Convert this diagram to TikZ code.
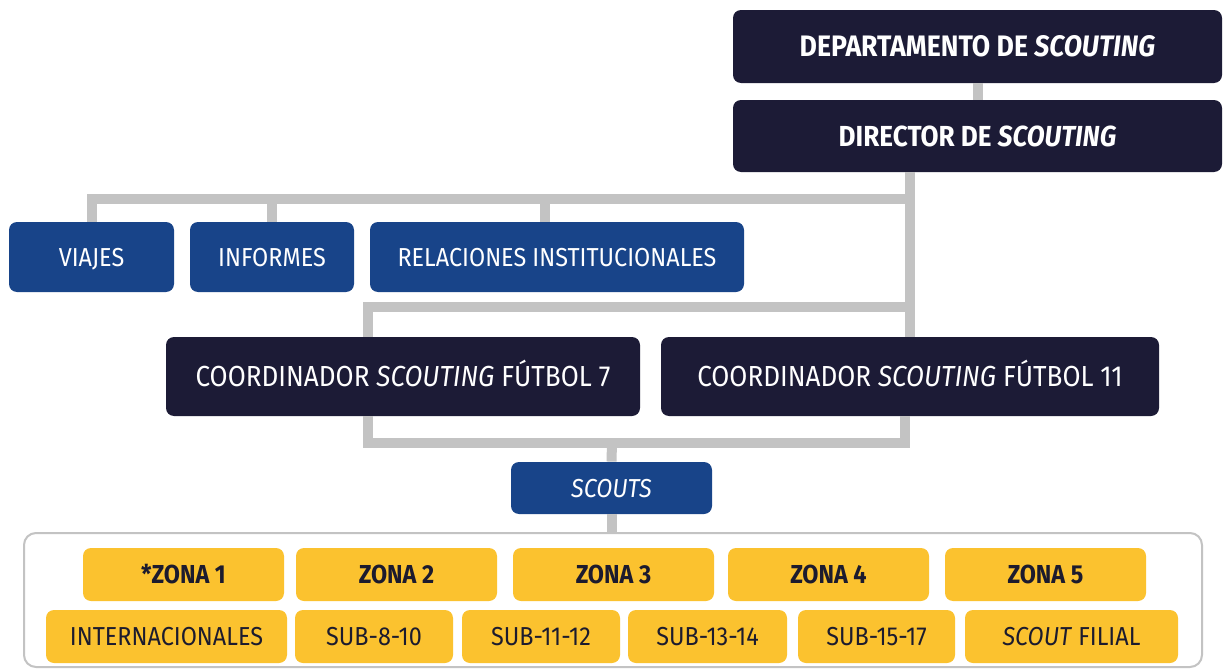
\documentclass[tikz,border=0pt]{standalone}
\usepackage{fontspec}
\setmainfont{Fira Sans}[FakeStretch=0.9]
\usetikzlibrary{positioning}
\definecolor{navy}{HTML}{1C1B36}
\definecolor{azul}{HTML}{184489}
\definecolor{amarillo}{HTML}{FBC22F}
\definecolor{tinta}{HTML}{1C1B2E}
\definecolor{gris}{HTML}{C3C3C3}

\begin{document}
\begin{tikzpicture}[x=0.5pt,y=-0.5pt,font=\fontsize{13}{15}\selectfont]
  \tikzset{bx/.style={rounded corners=4pt,inner sep=0pt,text=white,text height=9pt,text depth=0pt},
    nv/.style={bx,fill=navy,text height=10pt,font=\fontsize{14.5}{17}\selectfont},
    az/.style={bx,fill=azul,minimum height=35pt},
    am/.style={bx,fill=amarillo,text=tinta,minimum height=26.5pt}, 
    ln/.style={draw=gris,line width=5pt}}
  \path[use as bounding box,fill=white] (0,0) rectangle (1223,669);
  \node[nv,minimum width=244.5pt,minimum height=36.5pt,font=\fontsize{14.8}{17}\selectfont\bfseries] (dep) at (977.5,46.5) {DEPARTAMENTO DE \textit{SCOUTING}};
  \node[nv,minimum width=244.5pt,minimum height=36pt,font=\fontsize{14.5}{17}\selectfont\bfseries] (dir) at (977.5,136) {DIRECTOR DE \textit{SCOUTING}};
  \node[az,minimum width=82.5pt] (via) at (91.5,257) {VIAJES};
  \node[az,minimum width=82pt] (inf) at (272,257) {INFORMES};
  \node[az,minimum width=187pt] (rel) at (557,257) {RELACIONES INSTITUCIONALES};
  \node[nv,minimum width=237pt,minimum height=39.5pt] (f7) at (403,376.5) {COORDINADOR \textit{SCOUTING} FÚTBOL 7};
  \node[nv,minimum width=249pt,minimum height=39.5pt] (f11) at (910,376.5) {COORDINADOR \textit{SCOUTING} FÚTBOL 11};
  \node[az,minimum width=100.5pt,minimum height=26pt] (sco) at (611.5,488) {\textit{SCOUTS}};
  \node[draw=gris,line width=1pt,rounded corners=6pt,minimum width=589pt,minimum height=67pt] (grp) at (613,600) {};
  \foreach \x/\t [count=\i] in {183.5/*ZONA 1,396.5/ZONA 2,613.5/ZONA 3,828.5/ZONA 4,1045.5/ZONA 5}
    \node[am,minimum width=100.5pt,font=\fontsize{13}{15}\selectfont\bfseries] (z\i) at (\x,574.5) {\t};
  \foreach \x/\w/\t [count=\i] in {166.5/120.5/INTERNACIONALES,374/79/SUB-8-10,541/79/SUB-11-12,707.5/79.5/SUB-13-14,876.5/78.5/SUB-15-17,1071.5/106.5/\textit{SCOUT} FILIAL}
    \node[am,minimum width=\w pt] (c\i) at (\x,636.5) {\t};
  \coordinate (b1) at (910,199);
  \coordinate (b2) at (910,307);
  \coordinate (b3) at (612,443);
  \coordinate (r1) at ([xshift=-6pt]rel.north);
  \coordinate (f7a) at ([xshift=-17.5pt]f7.north);
  \coordinate (f7b) at ([xshift=-17.5pt]f7.south);
  \coordinate (f11b) at ([xshift=-2.5pt]f11.south);
  \draw[ln] (dep) -- (dir);
  \draw[ln] (dir.south -| b1) -- (f11.north);
  \draw[ln] (via.north) |- (b1);
  \draw[ln] (inf.north) -- (inf.north |- b1);
  \draw[ln] (r1) -- (r1 |- b1);
  \draw[ln] (f7a) |- (b2);
  \draw[ln] (f7b) |- (b3) -| (f11b);
  \draw[ln] (b3) -- (sco.north);
  \draw[ln] (sco.south) -- (sco.south |- grp.north);
\end{tikzpicture}
\end{document}
